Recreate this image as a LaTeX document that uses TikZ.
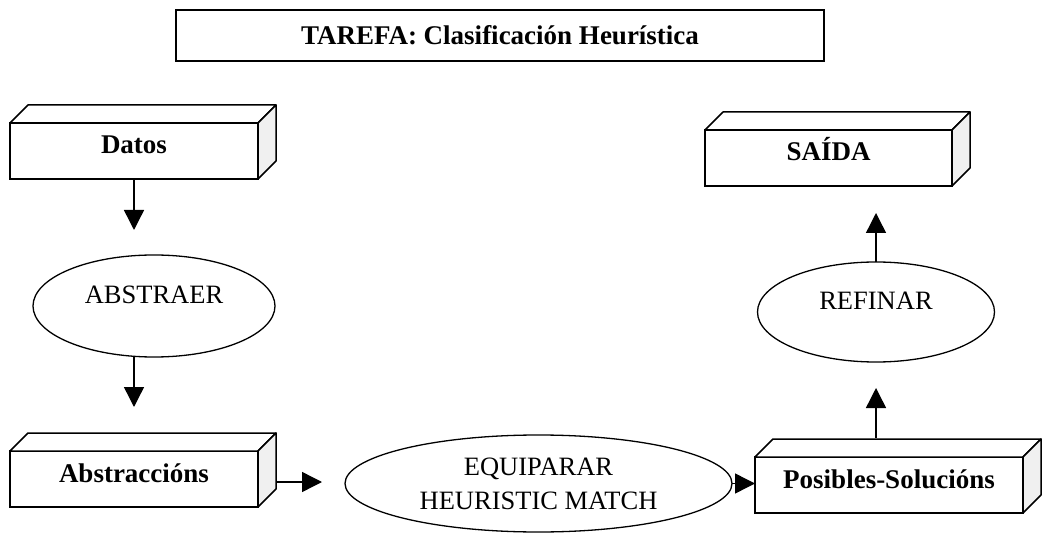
\documentclass[tikz,border=0pt]{standalone}
\usepackage{fontspec}
\setmainfont{Liberation Serif}
\usetikzlibrary{calc,shapes.geometric,arrows.meta}
\def\caixa(#1){%
	\draw[line width=1.5pt, line join=round, fill=white] (#1.north west) -- ++(18,-18) -- ($(#1.north east)+(18,-18)$) -- (#1.north east) -- cycle;
	\draw[line width=1.5pt, line join=round, fill=black!6] (#1.north east) -- ++(18,-18) -- ($(#1.south east)+(18,-18)$) -- (#1.south east) -- cycle;}
\tikzset{
	caixabox/.style={draw, line width=1.5pt, minimum height=56pt, inner sep=0pt, outer sep=0pt, text height=19pt, text depth=13pt, font=\fontsize{27}{34}\selectfont\bfseries},
	oval/.style={ellipse, draw, line width=1.3pt, inner sep=0pt, outer sep=0pt, text height=19pt, text depth=23pt},
	seta/.style={line width=1.4pt, -{Triangle[length=20pt, width=20pt]}}
}

\begin{document}
\begin{tikzpicture}[x=1pt, y=-1pt, font=\fontsize{26.5}{34}\selectfont]
			%%%%% START %%%%%
			\useasboundingbox (0, 0) rectangle (1049, 534);
			
			\node[draw, line width=1.5pt, minimum width=648pt, minimum height=51pt, inner sep=0pt] (tarefa) at (500, 35.5) {\fontsize{27}{34}\selectfont\bfseries TAREFA: Clasificación Heurística};
			
			\node[caixabox, minimum width=248pt] (datos) at (134, 151) {Datos};
			\node[caixabox, minimum width=248pt] (abstraccions) at (134, 479) {Abstraccións};
			\node[caixabox, minimum width=268pt] (posibles) at (889, 485) {Posibles-Solucións};
			\node[caixabox, minimum width=247pt] (saida) at (828.5, 158) {SAÍDA};
			
			\caixa(datos)
			\caixa(abstraccions)
			\caixa(posibles)
			\caixa(saida)
			
			\node[oval, minimum width=242pt, minimum height=102pt] (abstraer) at (154, 306) {ABSTRAER};
			\node[oval, minimum width=237pt, minimum height=100pt] (refinar) at (876, 312) {REFINAR};
			\node[ellipse, draw, line width=1.3pt, inner sep=0pt, outer sep=0pt, align=center, minimum width=387pt, minimum height=97pt] (equiparar) at (538.5, 483.5) {EQUIPARAR\\HEURISTIC MATCH};
			
			\draw[seta, shorten >=25pt] (datos.south) -- (datos.south |- abstraer.north);
			\draw[seta, shorten >=44pt] (abstraer.south -| datos.south) -- (abstraccions.north);
			\draw[seta, shorten >=23pt] ($(abstraccions.east)+(18, 3)$) -- ($(abstraccions.east -| equiparar.west)+(0, 3)$);
			\draw[seta] (equiparar.east) -- (equiparar.east -| posibles.west);
			\draw[seta, shorten >=26pt] ($(posibles.north -| refinar.south)+(0, -19)$) -- (refinar.south);
			\draw[seta, shorten >=27pt] (refinar.north) -- (refinar.north |- saida.south);
			
			%%%%% END %%%%%
		\end{tikzpicture}
\end{document}
